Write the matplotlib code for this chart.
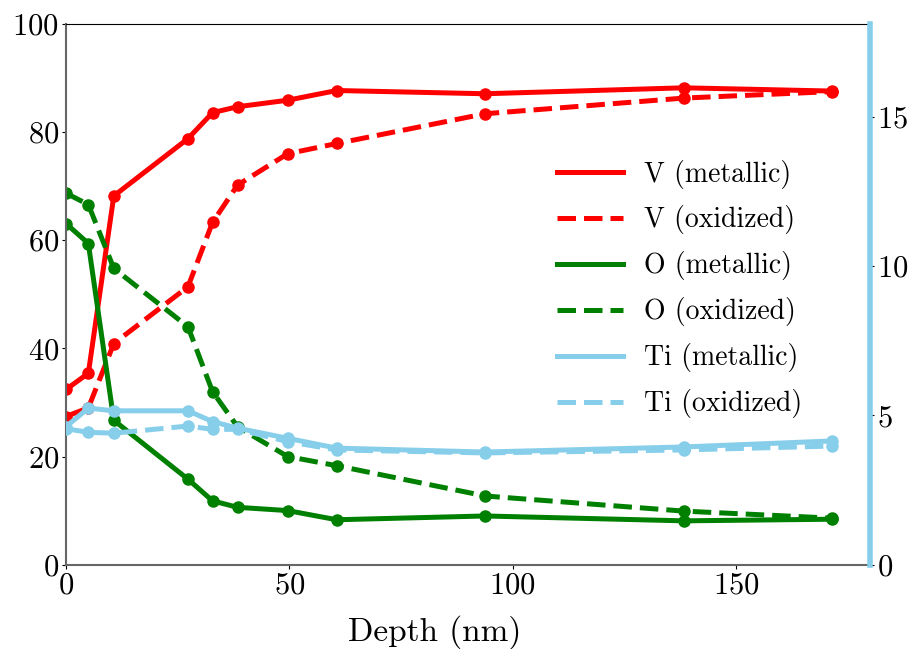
import matplotlib
matplotlib.use('Agg')
import matplotlib.pyplot as plt
from matplotlib.lines import Line2D

plt.rcParams['font.family'] = 'cmr10'
plt.rcParams['mathtext.fontset'] = 'cm'
plt.rcParams['axes.formatter.use_mathtext'] = True

# depth of each sputter step (nm)
depth = [0, 5, 10.7, 27.3, 32.8, 38.4, 49.6, 60.6, 93.8, 138.3, 171.4]

# V and O, left axis (%)
v_metal = [32.4, 35.4, 68.2, 78.8, 83.6, 84.7, 85.9, 87.7, 87.1, 88.2, 87.6]
v_oxid  = [27.4, 29.0, 40.9, 51.4, 63.3, 70.2, 76.0, 77.9, 83.4, 86.3, 87.5]
o_metal = [63.1, 59.4, 26.7, 15.8, 11.8, 10.6, 10.0, 8.3, 9.0, 8.1, 8.4]
o_oxid  = [68.7, 66.6, 54.8, 44.0, 32.0, 25.5, 20.0, 18.3, 12.7, 9.9, 8.6]

# Ti, right axis (%)
ti_metal = [4.62, 5.24, 5.15, 5.15, 4.79, 4.57, 4.23, 3.90, 3.77, 3.94, 4.14]
ti_oxid  = [4.55, 4.43, 4.40, 4.64, 4.53, 4.53, 4.12, 3.84, 3.74, 3.84, 3.97]

RED, GREEN, SKY = '#ff0000', '#008000', '#87ceeb'
LW, MS = 3.6, 8

fig = plt.figure(figsize=(9.13, 6.49), dpi=100)
ax = fig.add_axes([0.0723, 0.130, 0.8807, 0.833])
ax2 = ax.twinx()

ax.plot(depth, v_metal, '-', color=RED, lw=LW, marker='o', ms=MS)
ax.plot(depth, v_oxid, '--', color=RED, lw=LW, marker='o', ms=MS)
ax.plot(depth, o_metal, '-', color=GREEN, lw=LW, marker='o', ms=MS)
ax.plot(depth, o_oxid, '--', color=GREEN, lw=LW, marker='o', ms=MS)
ax2.plot(depth, ti_metal, '-', color=SKY, lw=LW, marker='o', ms=MS)
ax2.plot(depth, ti_oxid, '--', color=SKY, lw=LW, marker='o', ms=MS)

ax.set_xlim(0, 180)
ax.set_ylim(0, 100)
ax2.set_ylim(0, 18.1)
ax.set_xticks([0, 50, 100, 150])
ax.set_yticks([0, 20, 40, 60, 80, 100])
ax2.set_yticks([0, 5, 10, 15])

ax.set_xlabel('Depth (nm)', fontsize=24, va='center')
ax.xaxis.set_label_coords(0.458, -0.124)
ax.tick_params(labelsize=22, length=3, width=0.8, pad=2)
ax2.tick_params(labelsize=22, length=3, width=0.8, pad=2)

for s in ['left', 'bottom']:
    ax.spines[s].set_color('#666666')
    ax.spines[s].set_linewidth(1.5)
ax.spines['top'].set_linewidth(0.8)
ax2.spines['right'].set_color(SKY)
ax2.spines['right'].set_linewidth(4)
for s in ['left', 'bottom', 'top']:
    ax2.spines[s].set_visible(False)

handles = [
    Line2D([], [], color=RED, lw=LW, ls='-'),
    Line2D([], [], color=RED, lw=LW, ls='--'),
    Line2D([], [], color=GREEN, lw=LW, ls='-'),
    Line2D([], [], color=GREEN, lw=LW, ls='--'),
    Line2D([], [], color=SKY, lw=LW, ls='-'),
    Line2D([], [], color=SKY, lw=LW, ls='--'),
]
labels = ['V (metallic)', 'V (oxidized)', 'O (metallic)', 'O (oxidized)',
          'Ti (metallic)', 'Ti (oxidized)']
ax2.legend(handles, labels, loc='center left', bbox_to_anchor=(0.580, 0.510),
           frameon=False, fontsize=20, handlelength=2.37, labelspacing=0.61,
           handletextpad=0.75)

fig.savefig('out.png', dpi=100)
